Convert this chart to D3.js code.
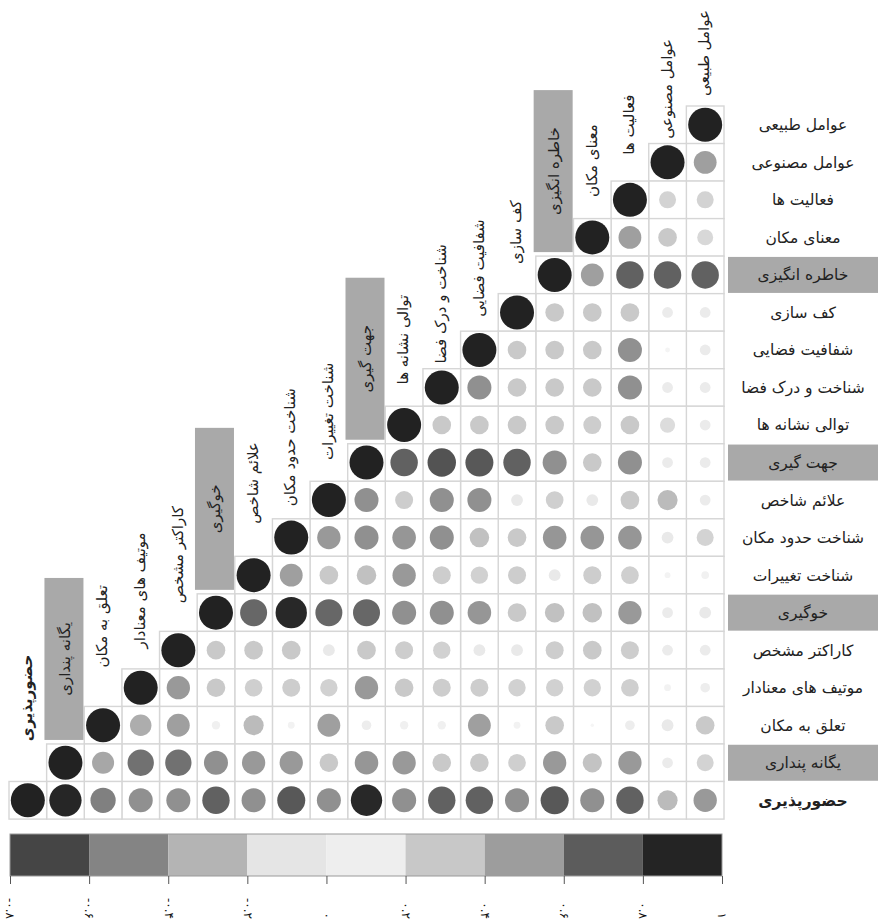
<!DOCTYPE html>
<html>
<head>
<meta charset="utf-8">
<script src="https://cdn.jsdelivr.net/npm/d3@7"></script>
<style>
  body { margin: 0; background: #fff; }
  svg { display: block; font-family: "DejaVu Sans", sans-serif; }
</style>
</head>
<body>
<svg id="chart" width="886" height="924"></svg>
<script>
// ردیف ها (از بالا به پایین)
const rowLabels = [
    "عوامل طبیعی", "عوامل مصنوعی", "فعالیت ها", "معنای مکان", "خاطره انگیزی",
    "کف سازی", "شفافیت فضایی", "شناخت و درک فضا", "توالی نشانه ها", "جهت گیری",
    "علائم شاخص", "شناخت حدود مکان", "شناخت تغییرات", "خوگیری", "کاراکتر مشخص",
    "موتیف های معنادار", "تعلق به مکان", "یگانه پنداری", "حضورپذیری"
];
// ستون ها (از راست به چپ) - همانند تصویر اصلی
const colLabels = [
    "عوامل طبیعی", "عوامل مصنوعی", "فعالیت ها", "معنای مکان", "خاطره انگیزی",
    "کف سازی", "شفافیت فضایی", "شناخت و درک فضا", "توالی نشانه ها", "جهت گیری",
    "شناخت تغییرات", "شناخت حدود مکان", "علائم شاخص", "خوگیری", "کاراکتر مشخص",
    "موتیف های معنادار", "تعلق به مکان", "یگانه پنداری", "حضورپذیری"
];
const highlighted = ["خاطره انگیزی", "جهت گیری", "خوگیری", "یگانه پنداری"];
const boldLabel = "حضورپذیری";

// ماتریس همبستگی (مثلث پایین، ستون 0 تا قطر)
const corrRows = [
    [1],
    [0.45, 1],
    [0.25, 0.25, 1],
    [0.22, 0.3, 0.45, 1],
    [0.65, 0.65, 0.65, 0.45, 1],
    [0.1, 0.1, 0.3, 0.3, 0.3, 1],
    [0.1, 0.02, 0.5, 0.3, 0.3, 0.3, 1],
    [0.1, 0.1, 0.5, 0.3, 0.3, 0.3, 0.5, 1],
    [0.1, 0.2, 0.3, 0.28, 0.3, 0.3, 0.3, 0.3, 1],
    [0.1, 0.1, 0.5, 0.3, 0.5, 0.65, 0.68, 0.7, 0.65, 1],
    [0.1, 0.35, 0.3, 0.12, 0.27, 0.12, 0.5, 0.5, 0.28, 0.5, 1],
    [0.25, 0.12, 0.48, 0.48, 0.48, 0.3, 0.33, 0.5, 0.48, 0.5, 0.47, 1],
    [0.05, 0.03, 0.27, 0.28, 0.12, 0.28, 0.26, 0.28, 0.47, 0.33, 0.3, 0.45, 1],
    [0.12, 0.1, 0.47, 0.33, 0.33, 0.3, 0.48, 0.5, 0.5, 0.63, 0.63, 0.85, 0.63, 1],
    [0.1, 0.1, 0.28, 0.3, 0.28, 0.12, 0.12, 0.26, 0.28, 0.3, 0.12, 0.3, 0.3, 0.3, 1],
    [0.08, 0.04, 0.27, 0.26, 0.26, 0.26, 0.28, 0.28, 0.3, 0.47, 0.26, 0.28, 0.27, 0.3, 0.47, 1],
    [0.3, 0.12, 0.08, 0.01, 0.3, 0.04, 0.45, 0.06, 0.06, 0.08, 0.45, 0.04, 0.35, 0.06, 0.45, 0.4, 1],
    [0.25, 0.1, 0.47, 0.32, 0.47, 0.27, 0.3, 0.3, 0.47, 0.48, 0.3, 0.47, 0.47, 0.5, 0.6, 0.6, 0.42, 1],
    [0.47, 0.35, 0.65, 0.5, 0.68, 0.5, 0.65, 0.65, 0.5, 0.85, 0.5, 0.68, 0.5, 0.65, 0.5, 0.5, 0.55, 0.9, 1]
];

// راهنمای رنگ
const legendTicks = [-0.8, -0.6, -0.4, -0.2, 0, 0.2, 0.4, 0.6, 0.8, 1];
const legendTickLabels = ["-۰.۸", "-۰.۶", "-۰.۴", "-۰.۲", "۰", "۰.۲", "۰.۴", "۰.۶", "۰.۸", "۱"];
const legendColors = ["#454545", "#848484", "#b4b4b4", "#e5e5e5", "#eeeeee", "#c8c8c8", "#9d9d9d", "#5c5c5c", "#242424"];

const svg = d3.select("#chart");
const n = rowLabels.length;

const x = d3.scaleBand().domain(d3.range(n)).range([724, 9]);
const y = d3.scaleBand().domain(d3.range(n)).range([106, 819]);
const bw = x.bandwidth();

const radius = d3.scaleSqrt().domain([0, 1]).range([0, 17]);
const color = d3.scaleLinear()
    .domain([0, 0.15, 0.3, 0.47, 0.65, 0.85, 1])
    .range(["#f6f6f6", "#e6e6e6", "#c9c9c9", "#999999", "#616161", "#282828", "#222222"]);

const cells = corrRows.flatMap((row, i) => row.map((v, j) => ({ i, j, v })));

// خانه ها
svg.append("g")
    .selectAll("rect")
    .data(cells)
    .join("rect")
    .attr("x", d => x(d.j))
    .attr("y", d => y(d.i))
    .attr("width", bw)
    .attr("height", bw)
    .attr("fill", "#fff")
    .attr("stroke", "#d6d6d6")
    .attr("stroke-width", 1.4);

svg.append("g")
    .selectAll("circle")
    .data(cells)
    .join("circle")
    .attr("cx", d => x(d.j) + bw / 2)
    .attr("cy", d => y(d.i) + bw / 2)
    .attr("r", d => radius(d.v))
    .attr("fill", d => color(d.v));

// برچسب ردیف ها
const rowG = svg.append("g")
    .selectAll("g")
    .data(rowLabels)
    .join("g")
    .attr("transform", (d, i) => `translate(0,${y(i) + bw / 2})`);

rowG.filter(d => highlighted.includes(d))
    .append("rect")
    .attr("x", 728)
    .attr("y", -18)
    .attr("width", 150)
    .attr("height", 36)
    .attr("fill", "#a9a9a9");

rowG.append("text")
    .attr("x", 803)
    .attr("dy", "0.35em")
    .attr("text-anchor", "middle")
    .style("font-size", "15.5px")
    .style("font-weight", d => d === boldLabel ? "bold" : "normal")
    .attr("fill", "#222")
    .text(d => d);

// برچسب ستون ها
const colY = d3.scaleLinear().domain([0, n - 1]).range([53, 698]);

const colG = svg.append("g")
    .selectAll("g")
    .data(colLabels)
    .join("g");

// کادر خاکستری ستون های برجسته، درست بالای خانه قطری
colG.filter(d => highlighted.includes(d))
    .append("rect")
    .each(function (d) {
        const j = colLabels.indexOf(d);
        d3.select(this)
            .attr("x", x(j) + bw / 2 - 21)
            .attr("y", y(j) - 4 - 162)
            .attr("width", 39)
            .attr("height", 162)
            .attr("fill", "#a9a9a9");
    });

colG.append("text")
    .attr("transform", (d, j) => {
        const cy = highlighted.includes(d) ? y(j) - 4 - 81 : colY(j);
        return `translate(${x(j) + bw / 2 - 1},${cy}) rotate(-90)`;
    })
    .attr("dy", "0.35em")
    .attr("text-anchor", "middle")
    .style("font-size", "15px")
    .style("font-weight", d => d === boldLabel ? "bold" : "normal")
    .attr("fill", "#222")
    .text(d => d);

// نوار رنگ
const lx = d3.scaleLinear().domain([legendTicks[0], legendTicks[legendTicks.length - 1]]).range([10, 722]);
const legend = svg.append("g");

legend.selectAll("rect")
    .data(d3.pairs(legendTicks))
    .join("rect")
    .attr("x", d => lx(d[0]))
    .attr("y", 834)
    .attr("width", d => lx(d[1]) - lx(d[0]))
    .attr("height", 42)
    .attr("fill", (d, i) => legendColors[i]);

legend.append("rect")
    .attr("x", lx.range()[0])
    .attr("y", 834)
    .attr("width", lx.range()[1] - lx.range()[0])
    .attr("height", 42)
    .attr("fill", "none")
    .attr("stroke", "#9a9a9a")
    .attr("stroke-width", 1);

const axis = legend.append("g")
    .attr("transform", "translate(0,876)")
    .call(d3.axisBottom(lx)
        .tickValues(legendTicks)
        .tickFormat((d, i) => legendTickLabels[i])
        .tickSize(8));

axis.select(".domain").remove();
axis.selectAll(".tick line").attr("stroke", "#555");
axis.selectAll(".tick text")
    .attr("transform", "rotate(90)")
    .attr("x", 43)
    .attr("y", 0)
    .attr("dy", "0.35em")
    .attr("text-anchor", "end")
    .style("font-family", "DejaVu Sans, sans-serif")
    .style("font-size", "12px")
    .attr("fill", "#111");
</script>
</body>
</html>
